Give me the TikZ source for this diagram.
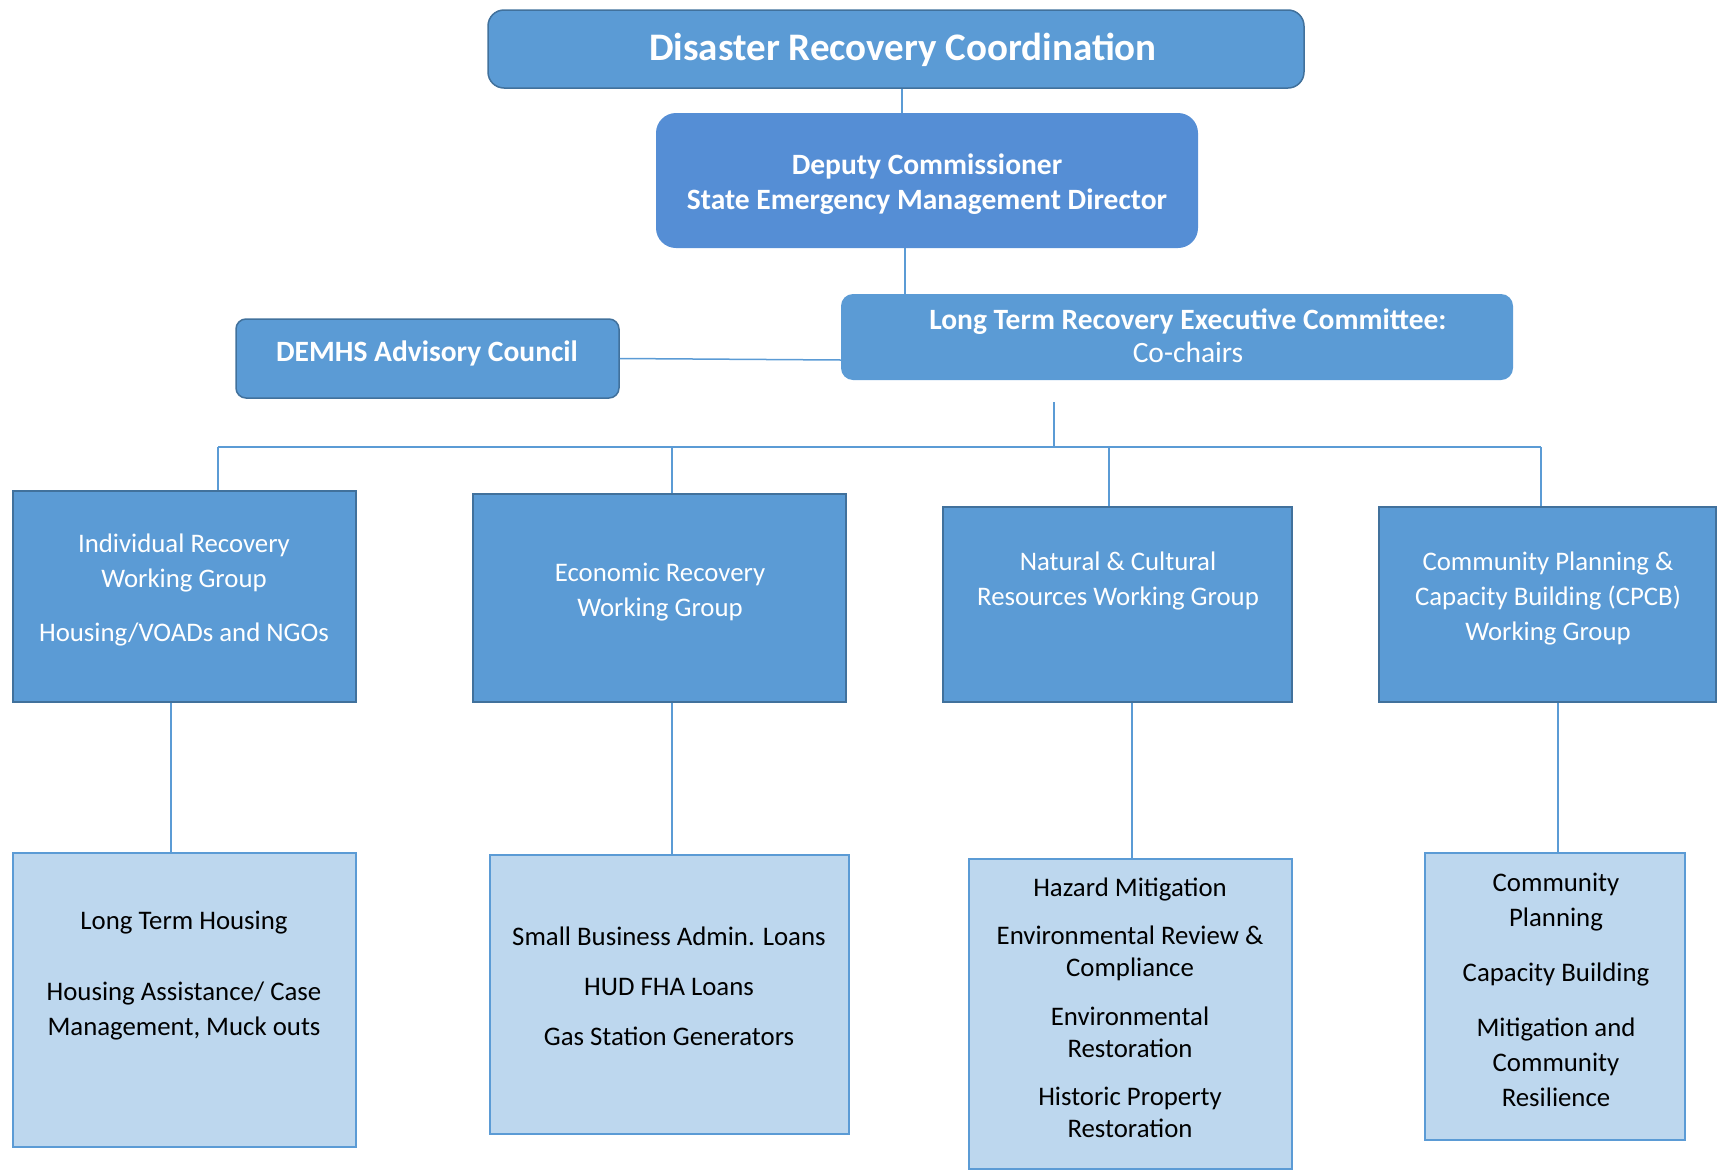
\documentclass[tikz,border=0pt]{standalone}
\usepackage{fontspec}
\setmainfont{Carlito}
\definecolor{midblue}{HTML}{5B9BD5}
\definecolor{depblue}{HTML}{558ED5}
\definecolor{darkedge}{HTML}{41719C}
\definecolor{lightfill}{HTML}{BDD7EE}
\begin{document}
\begin{tikzpicture}[x=1pt,y=-1pt,
  topbox/.style={draw=darkedge,line width=1.5pt,fill=midblue,rounded corners=16pt},
  depbox/.style={fill=depblue,rounded corners=20pt},
  ltrbox/.style={fill=midblue,rounded corners=12pt},
  advbox/.style={draw=darkedge,line width=1.5pt,fill=midblue,rounded corners=10pt},
  wgbox/.style={draw=darkedge,line width=1.5pt,fill=midblue},
  subbox/.style={draw=midblue,line width=2pt,fill=lightfill},
  wtext/.style={text=white,align=center,inner sep=0pt,anchor=north,font=\fontsize{26.8}{35}\selectfont},
  btext/.style={text=black,align=center,inner sep=0pt,anchor=north,font=\fontsize{26.8}{35}\selectfont},
  conn/.style={draw=midblue,line width=1.5pt}]
\useasboundingbox (0,0) rectangle (1718,1170);
% top levels
\node[topbox,minimum width=816pt,minimum height=78pt,inner sep=0pt] (top) at (896,49) {};
\node[text=white,inner sep=0pt,font=\fontsize{39}{44}\selectfont\bfseries] (toptext) at (903,50) {Disaster Recovery Coordination};

\node[depbox,minimum width=542pt,minimum height=135pt,inner sep=0pt] (dep) at (927,180.5) {};
\node[text=white,align=center,inner sep=0pt,font=\fontsize{29.5}{35}\selectfont\bfseries] (deptext) at (927,184) {Deputy Commissioner\\State Emergency Management Director};

\node[ltrbox,minimum width=672pt,minimum height=86pt,inner sep=0pt] (ltr) at (1177,337) {};
\node[text=white,align=center,inner sep=0pt,font=\fontsize{29.5}{33}\selectfont] (ltrtext) at (1188,336) {\textbf{Long Term Recovery Executive Committee:}\\Co-chairs};

\node[advbox,minimum width=383pt,minimum height=79pt,inner sep=0pt] (adv) at (427.5,358.5) {};
\node[text=white,inner sep=0pt,font=\fontsize{29.5}{33}\selectfont\bfseries] (advtext) at (427,353) {DEMHS Advisory Council};

% working groups
\node[wgbox,minimum width=343pt,minimum height=211pt,inner sep=0pt] (wg1) at (184.5,596.5) {};
\node[wgbox,minimum width=373pt,minimum height=208pt,inner sep=0pt] (wg2) at (659.5,598) {};
\node[wgbox,minimum width=349pt,minimum height=195pt,inner sep=0pt] (wg3) at (1117.5,604.5) {};
\node[wgbox,minimum width=337pt,minimum height=195pt,inner sep=0pt] (wg4) at (1547.5,604.5) {};

\node[wtext] (wg1t) at (184,534) {Individual Recovery\\Working Group\\[19pt]Housing/VOADs and NGOs};
\node[wtext] (wg2t) at (660,563) {Economic Recovery\\Working Group};
\node[wtext] (wg3t) at (1118,552) {Natural \& Cultural\\Resources Working Group};
\node[wtext] (wg4t) at (1548,552) {Community Planning \&\\Capacity Building (CPCB)\\Working Group};

% sub boxes
\node[subbox,minimum width=343pt,minimum height=294pt,inner sep=0pt] (sb1) at (184.5,1000) {};
\node[subbox,minimum width=359pt,minimum height=279pt,inner sep=0pt] (sb2) at (669.5,994.5) {};
\node[subbox,minimum width=323pt,minimum height=310pt,inner sep=0pt] (sb3) at (1130.5,1014) {};
\node[subbox,minimum width=260pt,minimum height=287pt,inner sep=0pt] (sb4) at (1555,996.5) {};

\node[btext] (sb1t) at (184,911) {Long Term Housing\\[36pt]Housing Assistance/ Case\\Management, Muck outs};
\node[btext,font=\fontsize{26.8}{50}\selectfont] (sb2t) at (669,927) {Small Business Admin. Loans\\HUD FHA Loans\\Gas Station Generators};
\node[btext,font=\fontsize{26.8}{32}\selectfont] (sb3t) at (1130,878) {Hazard Mitigation\\[16pt]Environmental Review \&\\Compliance\\[17pt]Environmental\\Restoration\\[16pt]Historic Property\\Restoration};
\node[btext,font=\fontsize{26.8}{35}\selectfont] (sb4t) at (1556,873) {Community\\Planning\\[20pt]Capacity Building\\[20pt]Mitigation and\\Community\\Resilience};

% connectors
\draw[conn] (top.south -| 902,0) -- (dep.north -| 902,0);
\draw[conn] (dep.south -| 905,0) -- (ltr.north -| 905,0);
\draw[conn] (adv.east) -- (ltr.west |- 0,360);
\coordinate (ltrdrop) at (1054,402);
\coordinate (busL) at (218,447);
\coordinate (busR) at (1541,447);
\draw[conn] (ltrdrop) -- (ltrdrop |- busL);
\draw[conn] (busL) -- (busR);
\draw[conn] (busL) -- (busL |- wg1.north);
\draw[conn] (672,447) -- (wg2.north -| 672,0);
\draw[conn] (1109,447) -- (wg3.north -| 1109,0);
\draw[conn] (busR) -- (busR |- wg4.north);
\draw[conn] (wg1.south -| 171,0) -- (sb1.north -| 171,0);
\draw[conn] (wg2.south -| 672,0) -- (sb2.north -| 672,0);
\draw[conn] (wg3.south -| 1132,0) -- (sb3.north -| 1132,0);
\draw[conn] (wg4.south -| 1558,0) -- (sb4.north -| 1558,0);
\end{tikzpicture}
\end{document}
